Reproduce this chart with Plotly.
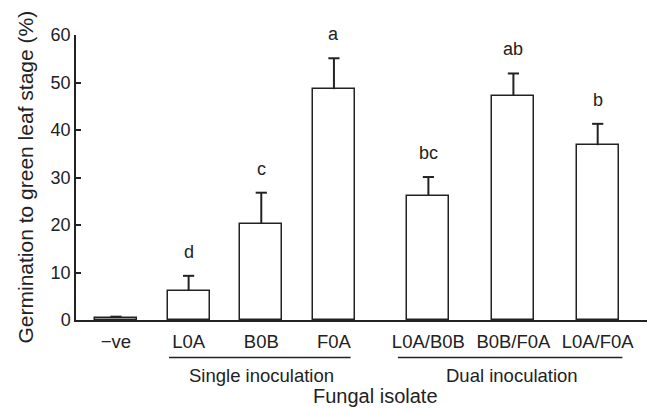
import plotly.graph_objects as go

# ---- data ----
categories = ["\u2212ve", "L0A", "B0B", "F0A", "L0A/B0B", "B0B/F0A", "L0A/F0A"]
means = [0.5, 6.2, 20.3, 48.6, 26.2, 47.2, 36.8]
errors = [0.2, 3.1, 6.5, 6.5, 3.9, 4.7, 4.5]
letters = ["", "d", "c", "a", "bc", "ab", "b"]
groups = ["Single inoculation", "Dual inoculation"]
y_ticks = [0, 10, 20, 30, 40, 50, 60]

# ---- layout positions (not data) ----
xpos = [0, 1, 2, 3, 4.3, 5.47, 6.63]
group_spans = [(0.73, 3.23), (3.88, 6.97)]
group_centers = [2.0, 5.45]

ink = "#222222"
font_family = "Liberation Sans, Arial, Helvetica, sans-serif"

# the page body has an 8px margin, so the figure is sized to fit the window
W, H = 647, 400
L, R, T, B = 68, 5, 27, 88
plot_w = W - L - R

tops = [m + e for m, e in zip(means, errors)]

fig = go.Figure()
fig.add_trace(go.Bar(
    x=xpos, y=means, width=0.578,
    marker=dict(color="white", line=dict(color=ink, width=1.5)),
    showlegend=False, hoverinfo="skip",
))
# error stems (upward only)
fig.add_trace(go.Scatter(
    x=xpos, y=tops, mode="markers",
    marker=dict(symbol="line-ew", size=8, line=dict(color=ink, width=2)),
    error_y=dict(type="data", symmetric=False, array=[0] * len(errors),
                 arrayminus=errors, color=ink, thickness=2, width=0),
    showlegend=False,
))

annotations = []
for x, top, t in zip(xpos, tops, letters):
    if t:
        annotations.append(dict(x=x, y=top, xref="x", yref="y", text=t,
                                showarrow=False, yanchor="bottom", yshift=12,
                                font=dict(size=18, color=ink)))

shapes = []
for (x0, x1), name, xc in zip(group_spans, groups, group_centers):
    shapes.append(dict(type="line", xref="x", yref="paper", x0=x0, x1=x1,
                       y0=-0.132, y1=-0.132, line=dict(color=ink, width=1.5)))
    annotations.append(dict(x=xc, y=-0.193, xref="x", yref="paper", text=name,
                            showarrow=False, yanchor="middle", xanchor="center",
                            font=dict(size=18.5, color=ink)))

annotations.append(dict(x=(375 - 76) / plot_w, y=-0.268, xref="paper", yref="paper",
                        text="Fungal isolate", showarrow=False,
                        yanchor="middle", xanchor="center",
                        font=dict(size=20, color=ink)))
annotations.append(dict(x=(25 - 76) / plot_w, y=0.5, xref="paper", yref="paper",
                        text="Germination to green leaf stage (%)", textangle=-90,
                        showarrow=False, yanchor="middle", xanchor="center",
                        font=dict(size=21, color=ink)))

fig.update_layout(
    width=W, height=H,
    margin=dict(l=L, r=R, t=T, b=B),
    paper_bgcolor="white", plot_bgcolor="white",
    font=dict(family=font_family, color=ink, size=18),
    bargap=0,
    annotations=annotations, shapes=shapes,
    xaxis=dict(range=[-0.55, 7.35], tickvals=xpos, ticktext=categories,
               showline=True, linecolor=ink, linewidth=1.5,
               ticks="outside", ticklen=4, tickcolor="rgba(0,0,0,0)",
               showgrid=False, zeroline=False, tickfont=dict(size=18.5)),
    yaxis=dict(range=[0, 60], tickvals=y_ticks, showline=True, linecolor=ink,
               linewidth=1.5, ticks="inside", ticklen=5, tickcolor=ink,
               tickwidth=1.5, showgrid=False, zeroline=False,
               tickfont=dict(size=18)),
)

fig.write_html("out.html")
